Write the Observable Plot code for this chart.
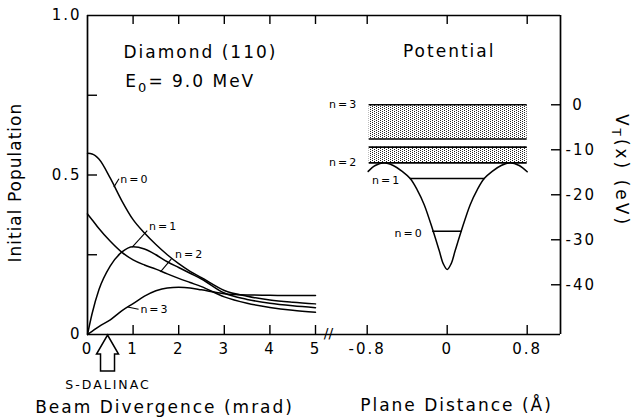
<!DOCTYPE html>
<html><head><meta charset="utf-8">
<script src="https://cdn.jsdelivr.net/npm/d3@7"></script>
<script src="https://cdn.jsdelivr.net/npm/@observablehq/plot@0.6"></script>
<style>
body{margin:0;background:#fff;}
#chart{position:relative;width:631px;height:417px;background:#fff;}
#chart svg{position:absolute;left:0;top:0;overflow:visible;}
#chart text{letter-spacing:2px;}
</style></head><body><div id="chart"></div>
<script>
// ---- Left panel data: initial population vs beam divergence ----
const divergence = [0, 0.1, 0.25, 0.5, 0.75, 1, 1.25, 1.5, 1.75, 2, 2.25, 2.5, 3, 3.5, 4, 4.5, 5];
const popN0 = [0.568, 0.566, 0.550, 0.490, 0.420, 0.360, 0.318, 0.282, 0.250, 0.222, 0.198, 0.178, 0.138, 0.120, 0.108, 0.101, 0.096];
const popN1 = [0.000, 0.065, 0.140, 0.215, 0.258, 0.275, 0.268, 0.250, 0.228, 0.210, 0.192, 0.174, 0.130, 0.110, 0.098, 0.090, 0.084];
const popN2 = [0.378, 0.360, 0.332, 0.292, 0.258, 0.234, 0.218, 0.205, 0.190, 0.176, 0.163, 0.150, 0.118, 0.098, 0.085, 0.076, 0.070];
const popN3 = [0.000, 0.010, 0.025, 0.046, 0.074, 0.097, 0.120, 0.137, 0.146, 0.148, 0.146, 0.140, 0.128, 0.124, 0.123, 0.122, 0.122];
const divTicks = [0, 1, 2, 3, 4, 5];
const popTicks = [0, 0.5, 1];
const popMinorTicks = [0.25, 0.5, 0.75];
const sdalinac = 0.45;

// ---- Right panel data: planar potential and levels ----
const planeX = [-0.79, -0.72, -0.63, -0.54, -0.45, -0.37, -0.30, -0.23, -0.14, -0.08, -0.04, 0, 0.04, 0.08, 0.14, 0.23, 0.30, 0.37, 0.45, 0.54, 0.63, 0.72, 0.80];
const potential = [-14.8, -13.5, -12.9, -13.5, -14.8, -16.4, -18.9, -22.2, -28.1, -32.4, -35.3, -36.6, -35.3, -32.4, -28.1, -22.2, -18.9, -16.4, -14.8, -13.5, -12.9, -13.5, -14.9];
const bandNames = ["n=3", "n=2"];
const bandTop = [0, -9.4];
const bandBottom = [-7.6, -12.9];
const bandRange = [-0.78, 0.8];
const levelNames = ["n=1", "n=0"];
const levelEnergy = [-16.4, -28.1];
const levelLeft = [-0.37, -0.145];
const levelRight = [0.38, 0.15];
const planeTicks = [-0.8, 0, 0.8];
const vTicks = [0, -10, -20, -30, -40];

const W = 631, H = 417, MT = 15, MB = 83;
const xDomL = [0, 5.285], yDomL = [0, 1];
const xDomR = [-1.187, 1.133], yDomR = [-51.05, 19.84];
const baseStyle = {fontFamily: "DejaVu Sans", fontSize: "15px", color: "black", background: "transparent"};

const popRows = divergence.flatMap((x, i) => [
  {n: "n=0", x, y: popN0[i]}, {n: "n=1", x, y: popN1[i]},
  {n: "n=2", x, y: popN2[i]}, {n: "n=3", x, y: popN3[i]}
]);

const leftPlot = Plot.plot({
  width: W, height: H, marginLeft: 87, marginRight: 303, marginTop: MT, marginBottom: MB,
  x: {domain: xDomL}, y: {domain: yDomL},
  style: baseStyle,
  marks: [
    Plot.ruleX([xDomL[0]], {strokeWidth: 1.7}),
    Plot.ruleY(yDomL, {strokeWidth: 1.7}),
    Plot.tickX(divTicks.slice(1), {insetTop: 310, strokeWidth: 1.4}),
    Plot.tickX(divTicks.slice(1), {insetBottom: 310, strokeWidth: 1.4}),
    Plot.tickY(popMinorTicks, {insetRight: 231, strokeWidth: 1.4}),
    Plot.axisX(divTicks, {tickSize: 0, tickPadding: 9, fontSize: 15, label: null}),
    Plot.axisY(popTicks, {tickSize: 0, tickPadding: 6, fontSize: 15, label: null,
      tickFormat: d => d === 0 ? "0" : d.toFixed(1)}),
    Plot.line(popRows, {x: "x", y: "y", z: "n", curve: "monotone-x", stroke: "black", strokeWidth: 1.5}),
    Plot.link([
      {x1: 0.577, y1: 0.462, x2: 0.69, y2: 0.488},
      {x1: 0.98, y1: 0.274, x2: 1.31, y2: 0.326},
      {x1: 1.6, y1: 0.196, x2: 1.84, y2: 0.237},
      {x1: 0.88, y1: 0.086, x2: 1.12, y2: 0.079}
    ], {x1: "x1", y1: "y1", x2: "x2", y2: "y2", stroke: "black", strokeWidth: 1.1}),
    Plot.text([
      {t: "n=0", x: 0.72, y: 0.485}, {t: "n=1", x: 1.35, y: 0.339},
      {t: "n=2", x: 1.92, y: 0.252}, {t: "n=3", x: 1.16, y: 0.077}
    ], {x: "x", y: "y", text: "t", textAnchor: "start", fontSize: 11}),
    Plot.text(["Diamond (110)"], {x: 0.79, y: 0.884, textAnchor: "start", fontSize: 17}),
    Plot.text(["E0 = 9.0 MeV"], {x: 0.83, y: 0.793, textAnchor: "start", fontSize: 17}),
    Plot.text(["Initial Population"], {x: xDomL[0], y: 0.476, rotate: -90, textAnchor: "middle", lineAnchor: "middle", dx: -72, fontSize: 17}),
    Plot.text(["S-DALINAC"], {x: sdalinac, frameAnchor: "bottom", lineAnchor: "middle", dy: 50, fontSize: 12.5}),
    Plot.text(["Beam Divergence (mrad)"], {x: 1.69, frameAnchor: "bottom", lineAnchor: "middle", dy: 73, fontSize: 17}),
    Plot.text(["//"], {x: xDomL[1], y: yDomL[0], fontSize: 14, dy: -1})
  ]
});

const bandRows = bandNames.map((n, i) => ({n, top: bandTop[i], bottom: bandBottom[i]}));
const bandEdges = bandNames.flatMap((n, i) => [bandTop[i], bandBottom[i]]);
const levelRows = levelNames.map((n, i) => ({n, e: levelEnergy[i], l: levelLeft[i], r: levelRight[i]}));
const potRows = planeX.map((x, i) => ({x, v: potential[i]}));

const rightPlot = Plot.plot({
  width: W, height: H, marginLeft: 328, marginRight: 71, marginTop: MT, marginBottom: MB,
  x: {domain: xDomR}, y: {domain: yDomR},
  style: baseStyle,
  marks: [
    Plot.rect(bandRows, {x1: bandRange[0], x2: bandRange[1], y1: "top", y2: "bottom", fill: "url(#stip)"}),
    Plot.ruleY(bandEdges, {x1: bandRange[0], x2: bandRange[1], strokeWidth: 1.6}),
    Plot.ruleX([xDomR[1]], {strokeWidth: 1.7}),
    Plot.ruleY(yDomR, {strokeWidth: 1.7}),
    Plot.tickX(planeTicks, {insetTop: 310, strokeWidth: 1.4}),
    Plot.tickX(planeTicks, {insetBottom: 310, strokeWidth: 1.4}),
    Plot.tickY(vTicks, {insetLeft: 223, strokeWidth: 1.4}),
    Plot.axisX(planeTicks, {tickSize: 0, tickPadding: 9, fontSize: 15, label: null,
      tickFormat: d => d === 0 ? "0" : d.toFixed(1)}),
    Plot.axisY(vTicks, {anchor: "right", tickSize: 0, tickPadding: 5, fontSize: 15, label: null,
      tickFormat: d => d === 0 ? " 0" : String(d)}),
    Plot.line(potRows, {x: "x", y: "v", curve: "catmull-rom", stroke: "black", strokeWidth: 1.5}),
    Plot.ruleY(levelRows, {y: "e", x1: "l", x2: "r", strokeWidth: 1.5}),
    Plot.text(bandRows, {x: bandRange[0], y: (d, i) => i === 0 ? d.top : d.bottom, text: "n", textAnchor: "end", dx: -11, fontSize: 11}),
    Plot.text(levelRows, {x: "l", y: d => d.e - 0.4, text: "n", textAnchor: "end", dx: -9, fontSize: 11}),
    Plot.text(["Potential"], {x: 0.02, y: 11.8, fontSize: 17}),
    Plot.text(["VT(x) (eV)"], {x: xDomR[1], y: -14.6, rotate: 90, textAnchor: "middle", lineAnchor: "middle", dx: 61, fontSize: 17}),
    Plot.text(["Plane Distance (\u00c5)"], {x: 0.093, frameAnchor: "bottom", lineAnchor: "middle", dy: 71.5, fontSize: 17})
  ]
});

// stipple pattern for the bands (staggered dots)
const rs = d3.select(rightPlot);
const pat = rs.insert("defs", ":first-child").append("pattern")
  .attr("id", "stip").attr("width", 4).attr("height", 2).attr("patternUnits", "userSpaceOnUse");
pat.append("rect").attr("width", 4).attr("height", 2).attr("fill", "white");
pat.append("rect").attr("x", 0).attr("y", 0).attr("width", 1).attr("height", 1).attr("fill", "#222");
pat.append("rect").attr("x", 2).attr("y", 1).attr("width", 1).attr("height", 1).attr("fill", "#222");

// subscripts
rs.selectAll("text").filter(function() { return this.textContent === "VT(x) (eV)"; }).each(function() {
  const el = d3.select(this);
  el.text(null).style("letter-spacing", "3px");
  el.append("tspan").text("V");
  el.append("tspan").attr("dy", 4).style("font-size", "12px").text("T");
  el.append("tspan").attr("dy", -4).text("(x) (eV)");
});
const ls = d3.select(leftPlot);
ls.selectAll("text").filter(function() { return this.textContent === "E0 = 9.0 MeV"; }).each(function() {
  const el = d3.select(this);
  el.text(null);
  el.append("tspan").text("E");
  el.append("tspan").attr("dy", 5).style("font-size", "13px").text("0");
  el.append("tspan").attr("dy", -5).text("= 9.0 MeV");
});
ls.selectAll("text").filter(function() { return this.textContent === "Initial Population"; })
  .style("letter-spacing", "1px");
ls.selectAll("text").filter(function() { return this.textContent === "//"; })
  .style("letter-spacing", "0px");

// S-DALINAC hollow arrow, anchored through the plot's scales
const ax = leftPlot.scale("x").apply(sdalinac), ay = leftPlot.scale("y").apply(0);
ls.append("path")
  .attr("d", `M${ax},${ay + 1}l11,19h-4v17h-14v-17h-4z`)
  .attr("fill", "white").attr("stroke", "black").attr("stroke-width", 1.5).attr("stroke-linejoin", "miter");

const chart = document.getElementById("chart");
chart.append(leftPlot, rightPlot);
</script></body></html>
